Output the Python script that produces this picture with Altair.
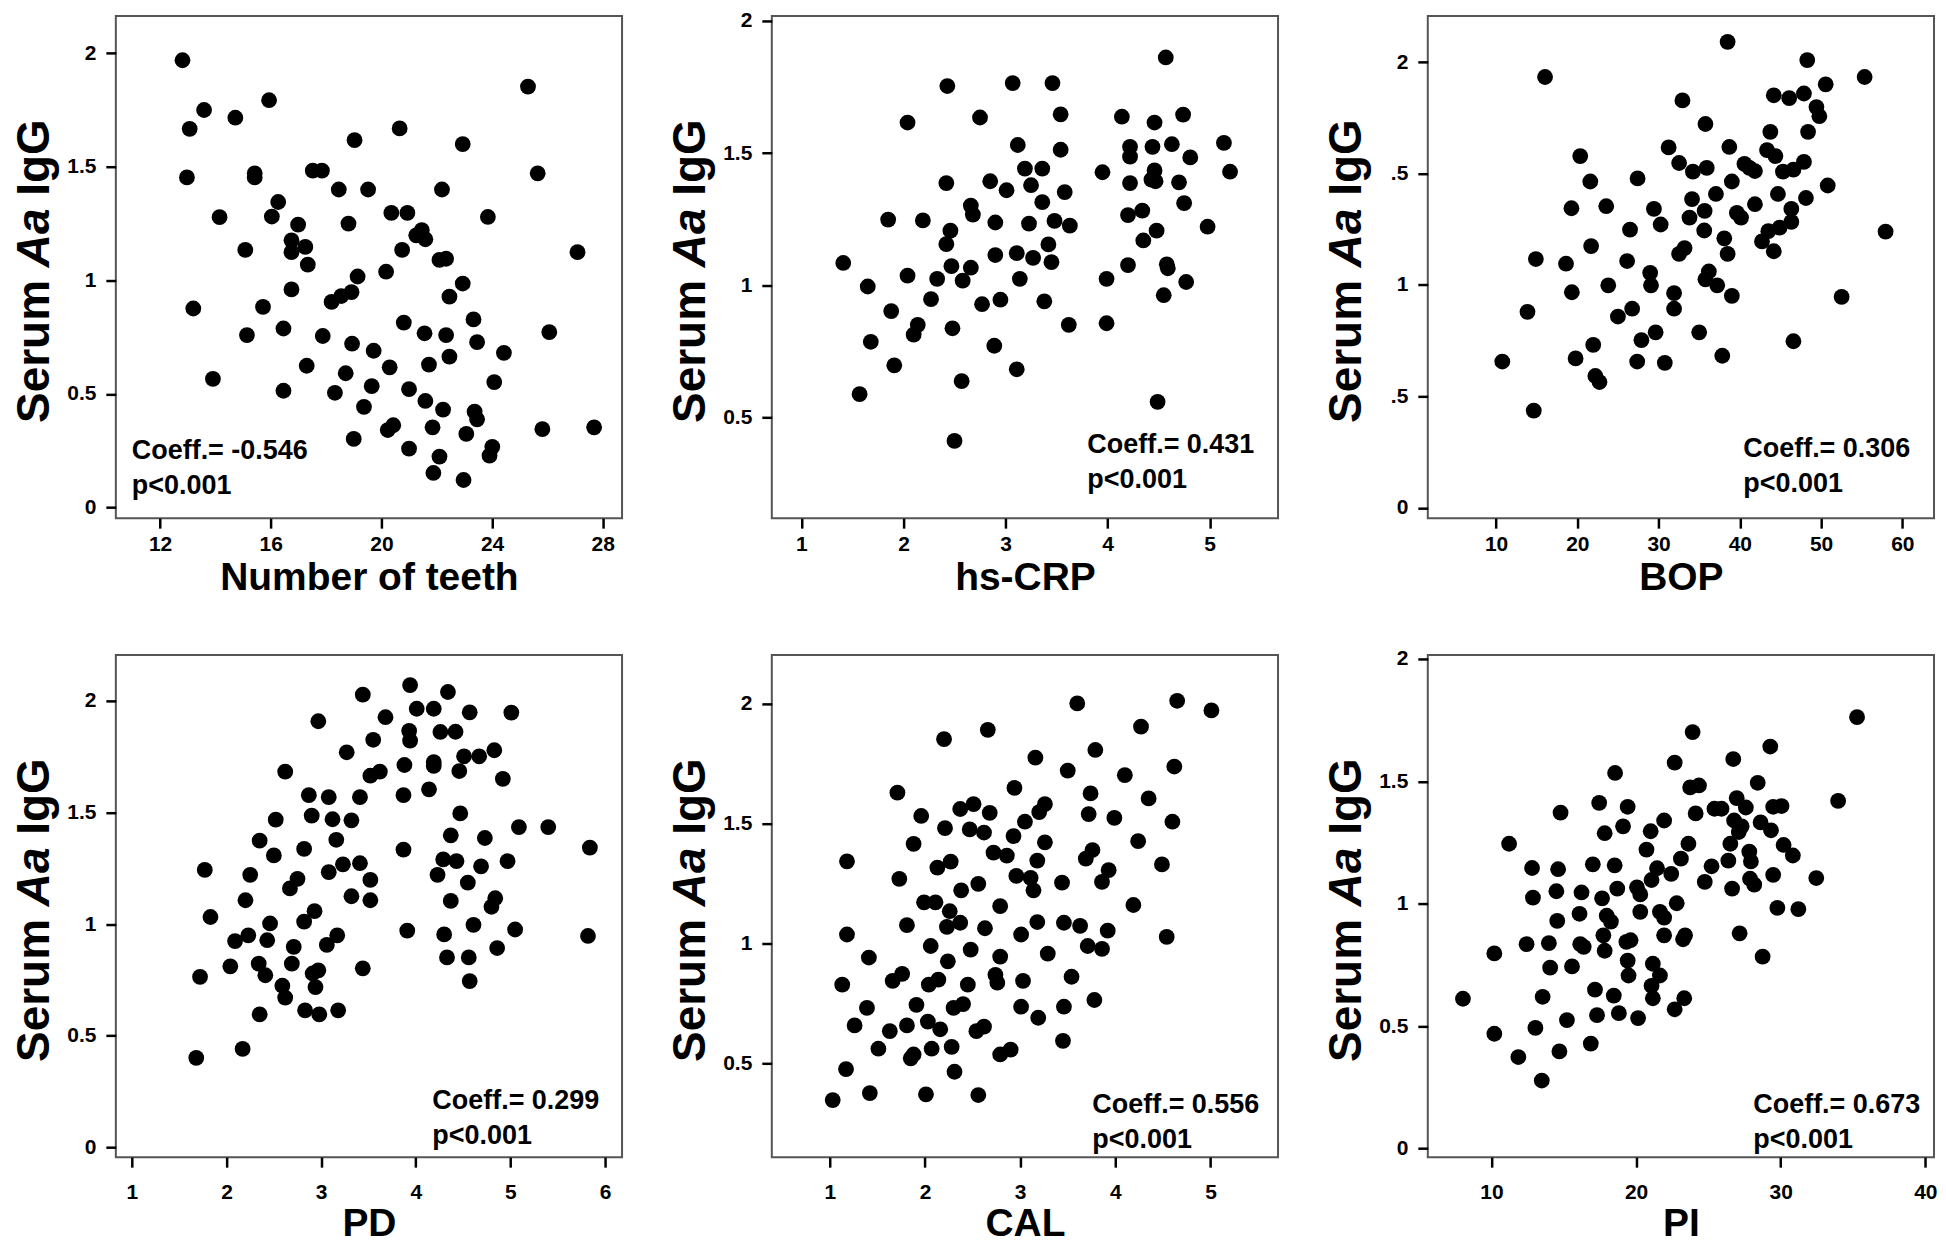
import altair as alt
import pandas as pd

FONT = "Liberation Sans"

# ---------------- data ----------------
teeth_x = [12.81, 13.07, 13.59, 12.97, 13.2, 13.91, 14.15, 14.72, 15.08, 15.42, 15.42, 15.14, 15.94, 16.04, 16.27,
           15.72, 16.46, 16.46, 16.99, 16.75, 16.75, 17.25, 16.75, 17.34, 17.52, 17.85, 17.3, 17.88, 18.46, 18.81,
           18.2, 18.55, 18.92, 19.14, 18.32, 18.71, 18.94, 19.03, 19.0, 19.52, 19.72, 19.65, 19.37, 20.17, 20.36,
           20.66, 20.94, 20.75, 21.26, 21.46, 21.59, 20.3, 20.81, 21.0, 20.23, 20.43, 21.0, 21.59, 21.56, 21.72,
           21.85, 21.88, 22.1, 22.23, 22.1, 22.34, 22.19, 22.34, 22.46, 22.46, 22.94, 22.94, 23.07, 22.97, 23.33,
           23.46, 23.37, 23.46, 23.85, 24.08, 24.01, 23.91, 24.43, 25.3, 25.65, 26.07, 25.82, 27.09, 27.69]
teeth_y = [1.969, 1.667, 1.75, 1.453, 0.876, 0.566, 1.278, 1.716, 1.134, 1.471, 1.453, 0.759, 1.793, 1.281, 1.345,
           0.883, 0.788, 0.514, 1.245, 1.176, 1.124, 1.147, 0.96, 1.069, 1.483, 1.483, 0.624, 0.755, 1.4, 1.25,
           0.905, 0.931, 0.948, 1.017, 0.505, 0.591, 0.721, 1.617, 0.302, 1.4, 0.69, 0.534, 0.443, 1.038, 1.297,
           1.669, 1.297, 1.134, 1.198, 1.221, 1.181, 0.617, 0.814, 0.521, 0.341, 0.362, 0.259, 0.469, 0.767, 0.629,
           0.353, 0.152, 0.224, 0.431, 1.09, 1.095, 1.4, 0.759, 0.928, 0.664, 0.986, 1.6, 0.324, 0.121, 0.828,
           0.728, 0.422, 0.388, 1.279, 0.552, 0.267, 0.228, 0.681, 1.853, 1.471, 0.772, 0.345, 1.124, 0.353]

crp_x = [1.41, 1.57, 1.65, 1.68, 1.85, 1.88, 1.91, 2.04, 2.04, 2.10, 2.14, 2.19, 2.27, 2.33, 2.43, 2.42, 2.46,
         2.42, 2.47, 2.48, 2.50, 2.57, 2.58, 2.66, 2.68, 2.66, 2.75, 2.77, 2.85, 2.90, 2.90, 2.89, 2.95, 3.01,
         3.07, 3.12, 3.11, 3.14, 3.11, 3.19, 3.25, 3.23, 3.27, 3.36, 3.36, 3.38, 3.42, 3.45, 3.46, 3.48, 3.54,
         3.54, 3.58, 3.63, 3.62, 3.95, 3.99, 3.99, 4.14, 4.22, 4.22, 4.22, 4.20, 4.34, 4.35, 4.20, 4.44, 4.46,
         4.46, 4.43, 4.47, 4.48, 4.57, 4.58, 4.59, 4.55, 4.49, 4.63, 4.74, 4.70, 4.75, 4.81, 4.77, 4.98, 5.14, 5.20]
crp_y = [1.085, 0.589, 0.996, 0.787, 1.249, 0.903, 0.698, 1.616, 1.037, 0.814, 0.851, 1.246, 0.948, 1.025, 1.754,
         1.387, 1.207, 1.156, 1.073, 0.838, 0.412, 0.638, 1.018, 1.302, 1.268, 1.067, 1.635, 0.929, 1.394, 1.238,
         1.115, 0.772, 0.946, 1.36, 1.765, 1.531, 1.122, 1.025, 0.683, 1.442, 1.379, 1.234, 1.104, 1.442, 1.315,
         0.94, 1.155, 1.088, 1.765, 1.244, 1.647, 1.513, 1.353, 1.226, 0.851, 1.428, 1.025, 0.857, 1.638, 1.524,
         1.487, 1.387, 1.266, 1.283, 1.17, 1.077, 1.524, 1.616, 1.435, 1.40, 1.394, 1.207, 1.862, 1.08, 1.065,
         0.963, 0.56, 1.534, 1.646, 1.39, 1.311, 1.484, 1.013, 1.222, 1.539, 1.43]

bop_x = [10.77, 13.87, 14.64, 14.90, 16.03, 18.61, 19.28, 19.33, 19.79, 20.36, 21.6, 21.7, 21.96, 22.22, 22.73,
         23.56, 23.81, 25.0, 26.13, 26.49, 26.75, 27.42, 27.37, 27.89, 28.97, 29.07, 29.43, 29.64, 30.26, 30.77,
         31.24, 31.91, 31.91, 32.53, 32.53, 33.2, 32.94, 33.81, 34.12, 34.23, 35.0, 35.77, 35.93, 35.67, 35.62,
         35.77, 36.19, 37.22, 37.06, 37.84, 38.09, 38.5, 38.71, 38.5, 39.02, 39.02, 39.64, 40.15, 40.57, 41.19,
         41.86, 41.86, 42.73, 43.35, 43.51, 43.76, 44.18, 44.38, 44.69, 44.18, 44.9, 45.31, 46.08, 46.34, 46.34,
         46.6, 46.6, 47.89, 47.89, 48.14, 48.3, 48.4, 49.43, 49.79, 50.57, 50.82, 52.53, 55.36, 57.94]
bop_y = [0.656, 0.879, 0.436, 1.116, 1.933, 1.095, 1.344, 0.967, 0.67, 1.578, 1.464, 1.174, 0.731, 0.591, 0.564,
         1.353, 0.998, 0.858, 1.107, 1.248, 0.893, 1.478, 0.656, 0.752, 1.054, 0.998, 1.341, 0.787, 1.271, 0.65,
         1.617, 0.963, 0.893, 1.547, 1.139, 1.165, 1.828, 1.302, 1.385, 1.508, 0.787, 1.722, 1.525, 1.332, 1.244,
         1.025, 1.06, 0.998, 1.408, 0.682, 1.209, 2.091, 1.619, 1.139, 1.464, 0.951, 1.323, 1.302, 1.543, 1.525,
         1.511, 1.362, 1.195, 1.605, 1.241, 1.687, 1.851, 1.578, 1.408, 1.151, 1.257, 1.508, 1.838, 1.341, 1.283,
         1.517, 0.747, 1.859, 1.552, 1.39, 2.009, 1.687, 1.798, 1.757, 1.9, 1.446, 0.946, 1.933, 1.239]

pd_x = [1.68, 1.72, 1.77, 1.83, 2.04, 2.09, 2.17, 2.20, 2.23, 2.25, 2.34, 2.35, 2.35, 2.41, 2.43, 2.46, 2.50,
        2.52, 2.59, 2.62, 2.62, 2.67, 2.69, 2.71, 2.75, 2.82, 2.82, 2.83, 2.87, 2.90, 2.93, 2.91, 2.94, 2.97,
        2.97, 2.98, 3.06, 3.08, 3.08, 3.12, 3.16, 3.17, 3.18, 3.23, 3.27, 3.32, 3.32, 3.41, 3.41, 3.44, 3.44,
        3.52, 3.52, 3.52, 3.55, 3.62, 3.68, 3.87, 3.87, 3.88, 3.91, 3.93, 3.94, 3.94, 4.01, 4.14, 4.19, 4.19,
        4.19, 4.23, 4.26, 4.29, 4.30, 4.33, 4.34, 4.37, 4.37, 4.43, 4.42, 4.46, 4.47, 4.51, 4.55, 4.56, 4.57,
        4.57, 4.61, 4.67, 4.69, 4.73, 4.80, 4.84, 4.83, 4.86, 4.92, 4.97, 5.01, 5.05, 5.09, 5.40, 5.82, 5.84]
pd_y = [0.401, 0.764, 1.243, 1.032, 0.811, 0.924, 0.441, 1.107, 0.95, 1.221, 0.823, 1.374, 0.596, 0.771, 0.928,
        1.003, 1.308, 1.468, 0.724, 0.671, 1.683, 1.16, 0.823, 0.898, 1.203, 1.337, 1.011, 0.614, 1.578, 1.486,
        1.058, 0.779, 0.718, 1.909, 0.793, 0.596, 0.907, 1.569, 1.233, 1.47, 1.378, 0.95, 0.614, 1.268, 1.77,
        1.465, 1.125, 1.569, 1.273, 2.028, 0.802, 1.198, 1.107, 1.665, 1.826, 1.683, 1.927, 1.578, 1.334, 1.713,
        0.971, 1.866, 1.822, 2.071, 1.965, 1.604, 1.965, 1.726, 1.709, 1.221, 1.861, 1.29, 0.954, 0.851, 2.04,
        1.398, 1.104, 1.282, 1.862, 1.686, 1.496, 1.752, 1.186, 0.851, 0.745, 1.949, 0.997, 1.752, 1.259, 1.386,
        1.078, 1.116, 1.779, 0.893, 1.651, 1.282, 1.948, 0.976, 1.435, 1.435, 0.947, 1.343]

cal_x = [1.03, 1.13, 1.17, 1.18, 1.18, 1.26, 1.39, 1.41, 1.42, 1.51, 1.63, 1.66, 1.71, 1.73, 1.76, 1.81, 1.81,
         1.85, 1.88, 1.88, 1.91, 1.96, 1.99, 2.01, 2.03, 2.04, 2.06, 2.07, 2.11, 2.13, 2.14, 2.16, 2.20, 2.21,
         2.23, 2.24, 2.26, 2.27, 2.28, 2.30, 2.31, 2.37, 2.37, 2.38, 2.40, 2.45, 2.47, 2.48, 2.51, 2.54, 2.56,
         2.56, 2.62, 2.62, 2.63, 2.66, 2.68, 2.72, 2.74, 2.76, 2.79, 2.79, 2.79, 2.86, 2.90, 2.93, 2.94, 2.96,
         3.01, 3.01, 3.03, 3.05, 3.11, 3.14, 3.16, 3.18, 3.18, 3.20, 3.19, 3.26, 3.26, 3.29, 3.44, 3.45, 3.46,
         3.46, 3.50, 3.54, 3.60, 3.63, 3.69, 3.71, 3.72, 3.74, 3.76, 3.78, 3.79, 3.86, 3.86, 3.93, 3.92, 3.99,
         4.10, 4.19, 4.24, 4.27, 4.35, 4.49, 4.54, 4.60, 4.62, 4.65, 5.01]
cal_y = [0.347, 0.828, 0.476, 1.037, 1.342, 0.658, 0.731, 0.941, 0.376, 0.561, 0.634, 0.844, 1.628, 1.269, 0.873,
         0.658, 1.076, 0.521, 0.537, 1.415, 0.744, 1.531, 1.171, 0.371, 0.674, 0.828, 0.989, 0.561, 1.171, 1.316,
         0.849, 0.642, 1.851, 1.48, 1.069, 0.925, 1.134, 1.341, 0.569, 0.731, 0.465, 1.56, 1.086, 1.221, 0.747,
         0.828, 1.475, 0.974, 1.58, 0.634, 1.248, 0.368, 0.653, 1.462, 1.063, 1.89, 1.544, 1.378, 0.869, 0.836,
         0.945, 1.155, 0.537, 1.366, 0.557, 1.447, 1.648, 1.281, 1.037, 0.736, 0.844, 1.507, 1.273, 1.221, 1.774,
         1.089, 1.345, 1.547, 0.69, 1.58, 1.421, 0.957, 1.253, 0.594, 1.086, 0.736, 1.72, 0.861, 2.0, 1.073,
         1.353, 0.989, 1.539, 1.625, 1.389, 0.764, 1.806, 1.256, 0.977, 1.305, 1.053, 1.523, 1.701, 1.16, 1.426,
         1.903, 1.604, 1.329, 1.027, 1.507, 1.737, 2.011, 1.971]

pi_x = [8.03, 10.2, 10.2, 11.22, 11.86, 12.43, 12.81, 12.87, 13.04, 13.48, 13.54, 13.97, 14.06, 14.49, 14.55,
        14.61, 14.70, 14.78, 15.22, 15.57, 16.09, 16.23, 16.14, 16.38, 16.87, 17.01, 17.16, 17.3, 17.45, 17.65,
        17.74, 17.83, 17.83, 17.97, 18.26, 18.46, 18.55, 18.52, 18.7, 18.81, 19.1, 19.33, 19.42, 19.42, 19.48,
        19.62, 20.06, 20.14, 20.29, 20.29, 20.72, 21.01, 21.07, 21.07, 21.16, 21.16, 21.45, 21.65, 21.65, 21.94,
        21.94, 21.94, 22.43, 22.67, 22.67, 22.81, 23.1, 23.25, 23.39, 23.33, 23.62, 23.74, 23.91, 24.12, 24.35,
        24.75, 25.22, 25.42, 25.91, 26.38, 26.52, 26.64, 26.72, 26.78, 26.96, 27.1, 27.3, 27.16, 27.59, 27.83,
        27.88, 27.94, 28.17, 28.41, 28.61, 28.75, 29.28, 29.33, 29.48, 29.48, 29.77, 30.06, 30.2, 30.84, 31.22,
        32.46, 33.97, 35.28]
pi_y = [0.612, 0.797, 0.469, 1.245, 0.374, 0.835, 1.146, 1.025, 0.493, 0.278, 0.62, 0.839, 0.739, 1.051, 0.93,
        1.141, 0.397, 1.372, 0.525, 0.744, 0.959, 1.046, 0.835, 0.824, 0.429, 1.161, 0.649, 0.545, 1.412, 1.022,
        0.871, 1.288, 0.808, 0.951, 0.927, 0.625, 1.534, 1.157, 1.062, 0.553, 1.316, 0.844, 1.396, 0.768, 0.707,
        0.851, 1.067, 0.533, 1.038, 0.967, 1.221, 1.296, 1.097, 0.665, 0.755, 0.614, 1.145, 0.967, 0.707, 1.34,
        0.871, 0.943, 1.122, 1.576, 0.569, 1.002, 1.184, 0.855, 0.871, 0.614, 1.245, 1.475, 1.701, 1.369, 1.483,
        1.089, 1.153, 1.388, 1.388, 1.176, 1.245, 1.062, 1.591, 1.34, 1.431, 1.293, 1.316, 0.879, 1.393, 1.213,
        1.102, 1.173, 1.078, 1.494, 1.332, 0.784, 1.642, 1.3, 1.396, 1.118, 0.983, 1.399, 1.24, 1.197, 0.978,
        1.105, 1.42, 1.762]

x_titles = ["Number of teeth", "hs-CRP", "BOP", "PD", "CAL", "PI"]
coeffs = ["-0.546", "0.431", "0.306", "0.299", "0.556", "0.673"]
y_title_parts = ["Serum", "Aa", "IgG"]
p_text = "p<0.001"

x_ticks = [[12, 16, 20, 24, 28], [1, 2, 3, 4, 5], [10, 20, 30, 40, 50, 60],
           [1, 2, 3, 4, 5, 6], [1, 2, 3, 4, 5], [10, 20, 30, 40]]
y_ticks_full = [0, 0.5, 1, 1.5, 2]
y_ticks_half = [0.5, 1, 1.5, 2]

x_domains = [[10.4, 28.7], [0.71, 5.67], [1.6, 63.9], [0.83, 6.18], [0.39, 5.71], [5.6, 40.6]]
y_domains = [[-0.047, 2.164], [0.12, 2.019], [-0.047, 2.207], [-0.044, 2.206], [0.109, 2.202], [-0.035, 2.016]]

# ---------------- layout ----------------
W, H = 507, 503
# annotation anchor (left x, first baseline y) inside each plot area, in px
ann_pos = [(16, 444), (316, 438), (316, 442), (317, 455), (321, 459), (326, 459)]
YT_FS = 46
EM = {"Serum": 3.112, "Aa": 1.278, "IgG": 1.667}
SPACE = 0.278


def panel(i, xs, ys, ylabel_expr=None):
    row = i // 3
    df = pd.DataFrame({"x": xs, "y": ys})
    yt = y_ticks_half if i in (1, 4) else y_ticks_full
    yaxis_kw = dict(values=yt, title=None, format="~g", labelPadding=10)
    if ylabel_expr:
        yaxis_kw["labelExpr"] = ylabel_expr
    xaxis = alt.Axis(values=x_ticks[i], title=x_titles[i], format="d",
                     labelPadding=5 if row == 0 else 14,
                     titlePadding=4 if row == 0 else 2)
    pts = alt.Chart(df).mark_circle(size=250, color="black", opacity=1).encode(
        x=alt.X("x:Q", scale=alt.Scale(domain=x_domains[i], nice=False, zero=False), axis=xaxis),
        y=alt.Y("y:Q", scale=alt.Scale(domain=y_domains[i], nice=False, zero=False),
                axis=alt.Axis(**yaxis_kw)),
    )
    one = pd.DataFrame({"k": [0]})
    tx, ty = ann_pos[i]
    ann = alt.Chart(one).mark_text(
        text="Coeff.= " + coeffs[i] + "\n" + p_text, lineBreak="\n", lineHeight=35,
        align="left", baseline="alphabetic", font=FONT, fontSize=27,
        fontWeight="bold", color="black",
    ).encode(x=alt.value(tx), y=alt.value(ty))

    total = (EM["Serum"] + SPACE + EM["Aa"] + SPACE + EM["IgG"]) * YT_FS
    yc = H / 2 + 4
    y0 = yc + total / 2
    offs = [0, (EM["Serum"] + SPACE) * YT_FS, (EM["Serum"] + SPACE + EM["Aa"] + SPACE) * YT_FS]
    styles = ["normal", "italic", "normal"]
    layers = [pts, ann]
    for part, off, st in zip(y_title_parts, offs, styles):
        layers.append(
            alt.Chart(one).mark_text(
                text=part, angle=270, align="left", baseline="middle", font=FONT,
                fontSize=YT_FS, fontWeight="bold", fontStyle=st, color="black",
            ).encode(x=alt.value(-81), y=alt.value(y0 - off))
        )
    return alt.layer(*layers).properties(width=W, height=H)


half_expr = "datum.value == 0.5 || datum.value == 1.5 ? '.5' : datum.label"

panels = [
    panel(0, teeth_x, teeth_y),
    panel(1, crp_x, crp_y),
    panel(2, bop_x, bop_y, ylabel_expr=half_expr),
    panel(3, pd_x, pd_y),
    panel(4, cal_x, cal_y),
    panel(5, pi_x, pi_y),
]

chart = alt.concat(
    *panels, columns=3, spacing=alt.RowColnumber(row=137, column=150), bounds="flush"
).properties(
    padding={"left": 2, "top": 0, "right": 0, "bottom": 0}, background="white"
).configure_axis(
    labelFont=FONT, labelFontSize=21, labelFontWeight="bold", labelColor="black",
    tickColor="black", tickWidth=2.5, tickSize=10, domain=False, grid=False,
    titleFont=FONT, titleFontSize=39, titleFontWeight="bold", titleColor="black",
).configure_view(stroke="#555555", strokeWidth=2)

chart.save("out.html", embed_options={"renderer": "svg", "actions": False})
